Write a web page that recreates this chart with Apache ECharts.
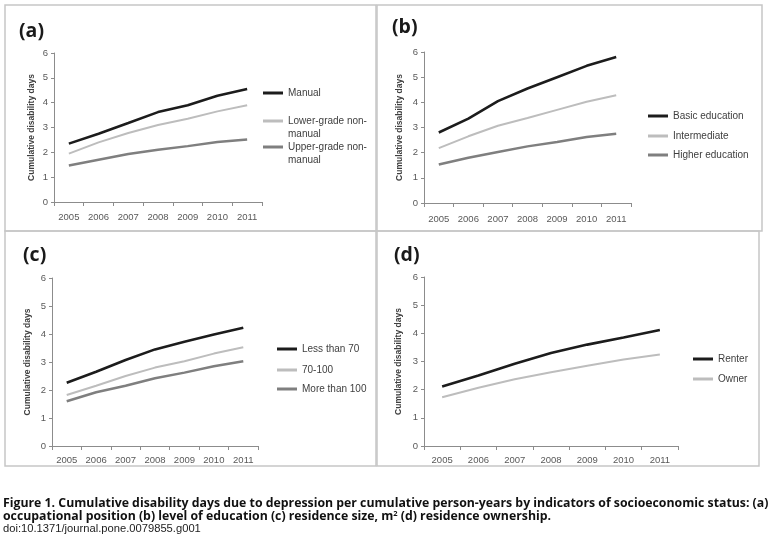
<!DOCTYPE html>
<html>
<head>
<meta charset="utf-8">
<script src="https://cdn.jsdelivr.net/npm/echarts@6/dist/echarts.min.js"></script>
<style>
html,body{margin:0;padding:0;background:#fff;}
#chart{width:770px;height:543px;}
</style>
</head>
<body>
<div id="chart"></div>
<script>
// ---- data ----
const years = ['2005','2006','2007','2008','2009','2010','2011'];
const yTicks = [0,1,2,3,4,5,6];

// (a) occupational position
const aManual = [2.35, 2.75, 3.18, 3.62, 3.90, 4.28, 4.55];
const aLower  = [1.95, 2.40, 2.78, 3.10, 3.35, 3.65, 3.90];
const aUpper  = [1.47, 1.70, 1.93, 2.10, 2.25, 2.42, 2.52];
// (b) education
const bBasic  = [2.80, 3.35, 4.05, 4.55, 5.00, 5.45, 5.80];
const bInter  = [2.18, 2.65, 3.07, 3.38, 3.70, 4.02, 4.28];
const bHigher = [1.53, 1.80, 2.03, 2.25, 2.42, 2.62, 2.75];
// (c) residence size
const cLess   = [2.26, 2.65, 3.07, 3.45, 3.72, 3.98, 4.22];
const cMid    = [1.82, 2.15, 2.50, 2.80, 3.03, 3.30, 3.53];
const cMore   = [1.60, 1.92, 2.15, 2.42, 2.62, 2.85, 3.03];
// (d) ownership
const dRenter = [2.11, 2.50, 2.92, 3.30, 3.60, 3.85, 4.12];
const dOwner  = [1.73, 2.07, 2.37, 2.62, 2.85, 3.07, 3.25];

const panelLabels = ['(a)','(b)','(c)','(d)'];
const yAxisTitle = 'Cumulative disability days';
const captionLine1 = 'Figure 1. Cumulative disability days due to depression per cumulative person-years by indicators of socioeconomic status: (a)';
const captionLine2a = 'occupational position (b) level of education (c) residence size, m';
const captionSup = '2';
const captionLine2b = ' (d) residence ownership.';
const captionDoi = 'doi:10.1371/journal.pone.0079855.g001';

// ---- styling ----
const FONT = 'Liberation Sans';
const CAPFONT = 'Open Sans';
const C_DARK = '#1c1c1c', C_LIGHT = '#bdbdbd', C_MID = '#7f7f7f';
const AX = '#8c8c8c';

const grids = [
  {left: 54,  top: 53, width: 208, height: 149},
  {left: 424, top: 52, width: 207, height: 151},
  {left: 52,  top: 278, width: 206, height: 168},
  {left: 424, top: 277, width: 254, height: 169}
];
const xLabelMargins = [10, 11, 9, 9];
const yNameGaps = [18, 20, 20, 21];

const xAxes = grids.map((g,i)=>({
  type:'category', gridIndex:i, data: years, boundaryGap:true,
  axisLine:{lineStyle:{color:AX,width:1}},
  axisTick:{show:true, length:4, lineStyle:{color:AX}},
  axisLabel:{color:'#595959', fontFamily:FONT, fontSize:9.5, margin:xLabelMargins[i]},
  splitLine:{show:false}
}));
const yAxes = grids.map((g,i)=>({
  type:'value', gridIndex:i, min:0, max:6, interval:1,
  name: yAxisTitle, nameLocation:'middle', nameGap: yNameGaps[i],
  nameTextStyle:{color:'#404040', fontFamily:FONT, fontWeight:'bold', fontSize:8.5},
  axisLine:{show:true, lineStyle:{color:AX,width:1}},
  axisTick:{show:true, length:3, lineStyle:{color:AX}},
  axisLabel:{color:'#595959', fontFamily:FONT, fontSize:9.5, margin:6,
    formatter: v => yTicks.indexOf(v) >= 0 ? String(v) : ''},
  splitLine:{show:false}
}));

function line(name, data, gi, color, width){
  return {type:'line', name, data, xAxisIndex:gi, yAxisIndex:gi,
    showSymbol:false, symbol:'none', smooth:false,
    lineStyle:{color, width}, itemStyle:{color}, z: color===C_DARK?5:3};
}

const series = [
  line('Manual', aManual, 0, C_DARK, 2.6),
  line('Lower-grade non-manual', aLower, 0, C_LIGHT, 2),
  line('Upper-grade non-manual', aUpper, 0, C_MID, 2.5),
  line('Basic education', bBasic, 1, C_DARK, 2.6),
  line('Intermediate', bInter, 1, C_LIGHT, 2),
  line('Higher education', bHigher, 1, C_MID, 2.5),
  line('Less than 70', cLess, 2, C_DARK, 2.6),
  line('70-100', cMid, 2, C_LIGHT, 2),
  line('More than 100', cMore, 2, C_MID, 2.5),
  line('Renter', dRenter, 3, C_DARK, 2.6),
  line('Owner', dOwner, 3, C_LIGHT, 2)
];

// legend entries: [name, iconLeft, iconCenterY, twoLine]
const legendItems = [
  ['Manual', 263, 93, false],
  ['Lower-grade non-manual', 263, 121, true],
  ['Upper-grade non-manual', 263, 147, true],
  ['Basic education', 648, 116, false],
  ['Intermediate', 648, 136, false],
  ['Higher education', 648, 155, false],
  ['Less than 70', 277, 349, false],
  ['70-100', 277, 370, false],
  ['More than 100', 277, 389, false],
  ['Renter', 693, 359, false],
  ['Owner', 693, 379, false]
];
const LH = 13;
const legends = legendItems.map(([name, x, cy, two]) => ({
  data:[name],
  orient:'vertical', left:x, top: two ? cy - 1.5*LH : cy - LH/2,
  padding:0, itemWidth:20, itemHeight:3, icon:'rect', selectedMode:false,
  // a blank leading line keeps the first text line level with the line sample
  formatter: n => two ? ' \n' + n.replace(' non-manual',' non-\nmanual') : n,
  textStyle:{color:'#404040', fontFamily:FONT, fontSize:10, lineHeight:LH}
}));

const panelRects = [
  [5,5,371,226],[377,5,385,226],[5,231,371,235],[377,231,382,235]
];
const labelPos = [[19,31],[392,27],[23,255],[394,255.5]];

const graphic = [];
panelRects.forEach(r => graphic.push({type:'rect', shape:{x:r[0],y:r[1],width:r[2],height:r[3]},
  style:{fill:'none', stroke:'#c6c6c6', lineWidth:1.5}, silent:true, z:-1}));
panelLabels.forEach((t,i) => graphic.push({type:'text', x:labelPos[i][0], y:labelPos[i][1],
  style:{text:t, font:'bold 19.5px "'+CAPFONT+'"', fill:'#1a1a1a', verticalAlign:'middle'}}));
const CAPSIZE = 12.3;
graphic.push({type:'text', x:3, y:503, style:{text:captionLine1, font:'bold '+CAPSIZE+'px "'+CAPFONT+'"', fill:'#111', verticalAlign:'middle'}});
graphic.push({type:'text', x:3, y:516, style:{
  text:'{t|'+captionLine2a+'}{s|'+captionSup+'}{t|'+captionLine2b+'}', verticalAlign:'middle',
  rich:{t:{font:'bold '+CAPSIZE+'px "'+CAPFONT+'"', fill:'#111', lineHeight:13},
        s:{font:'bold 7.5px "'+CAPFONT+'"', fill:'#111', verticalAlign:'top', lineHeight:6}}}});
graphic.push({type:'text', x:3, y:529, style:{text:captionDoi, font:'11.2px "'+FONT+'"', fill:'#222', verticalAlign:'middle'}});

const chart = echarts.init(document.getElementById('chart'), null, {renderer:'canvas'});
chart.setOption({
  animation:false,
  backgroundColor:'#fff',
  grid: grids.map(g=>Object.assign({containLabel:false}, g)),
  xAxis: xAxes, yAxis: yAxes,
  legend: legends,
  series, graphic
});
</script>
</body>
</html>
